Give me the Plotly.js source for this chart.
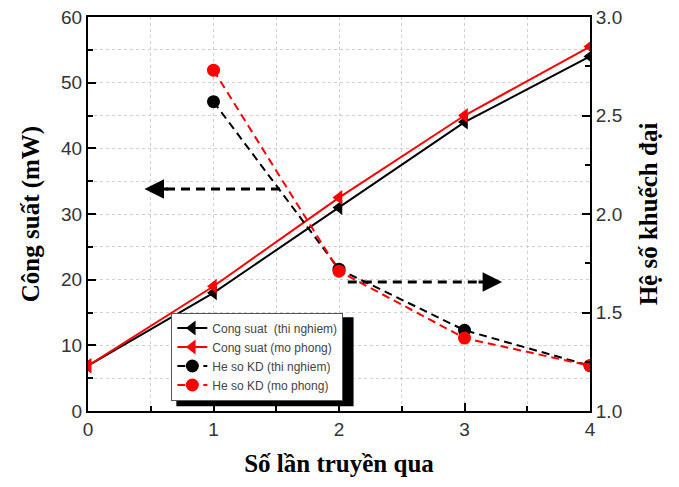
<!DOCTYPE html>
<html><head><meta charset="utf-8">
<script src="https://cdn.plot.ly/plotly-3.0.1.min.js"></script>
<style>body{margin:0;background:#fff}#c{width:679px;height:487px}</style>
</head><body><div id="c"></div>
<script>
const passes = [0, 1, 2, 3, 4];
const powerExp = [6.9, 18, 31, 44, 54];
const powerSim = [6.9, 19, 32.5, 45, 55.5];
const gainPasses = [1, 2, 3, 4];
const gainExp = [2.57, 1.72, 1.41, 1.23];
const gainSim = [2.73, 1.71, 1.37, 1.23];
const names = ['Cong suat  (thi nghiem)', 'Cong suat (mo phong)', 'He so KD (thi nghiem)', 'He so KD (mo phong)'];

const traces = [
  {x: passes, y: powerExp, name: names[0], mode: 'lines+markers', line: {color: '#000', width: 2},
   marker: {symbol: 'triangle-left', size: 13, color: '#000'}},
  {x: passes, y: powerSim, name: names[1], mode: 'lines+markers', line: {color: '#f00', width: 2},
   marker: {symbol: 'triangle-left', size: 13, color: '#f00'}},
  {x: gainPasses, y: gainExp, name: names[2], yaxis: 'y2', mode: 'lines+markers', line: {color: '#000', width: 2, dash: '8px,5px'},
   marker: {symbol: 'circle', size: 13, color: '#000'}},
  {x: gainPasses, y: gainSim, name: names[3], yaxis: 'y2', mode: 'lines+markers', line: {color: '#f00', width: 2, dash: '8px,5px'},
   marker: {symbol: 'circle', size: 13, color: '#f00'}}
];

const axFont = {family: 'Liberation Sans, Arial', size: 19, color: '#333'};
const titleFont = {family: 'Liberation Serif, Times New Roman', size: 25, color: '#000', weight: 'bold'};
const grid = {showgrid: true, gridcolor: '#d0d0d0', griddash: 'dot', gridwidth: 1};

const layout = {
  width: 679, height: 487,
  margin: {l: 88, r: 89, t: 17, b: 76},
  paper_bgcolor: '#fff', plot_bgcolor: '#fff',
  showlegend: true,
  legend: {x: 0.166, y: 0.25, xanchor: 'left', yanchor: 'top', bgcolor: '#fff', bordercolor: '#555', borderwidth: 1,
    font: {family: 'Liberation Sans, Arial', size: 12, color: '#444'}, tracegroupgap: 0, itemwidth: 30},
  xaxis: Object.assign({range: [0, 4], dtick: 1, tick0: 0, ticks: 'inside', ticklen: 8, tickwidth: 2, tickcolor: '#000',
    showline: true, linecolor: '#000', linewidth: 2, mirror: true, zeroline: false, tickfont: axFont,
    minor: {dtick: 0.5, ticks: 'inside', ticklen: 5, tickcolor: '#000', showgrid: true, gridcolor: '#d0d0d0', griddash: 'dot'},
    title: {text: 'Số lần truyền qua', font: titleFont, standoff: 16}}, grid),
  yaxis: Object.assign({range: [0, 60], dtick: 10, ticks: 'inside', ticklen: 8, tickwidth: 2, tickcolor: '#000',
    showline: true, linecolor: '#000', linewidth: 2, zeroline: false, tickfont: axFont,
    minor: {dtick: 5, ticks: 'inside', ticklen: 5, tickcolor: '#000', showgrid: true, gridcolor: '#d0d0d0', griddash: 'dot'},
    title: {text: 'Công suất (mW)', font: titleFont, standoff: 14}}, grid),
  yaxis2: {overlaying: 'y', side: 'right', range: [1, 3], dtick: 0.5, tickformat: '.1f', ticks: 'inside', ticklen: 8, tickwidth: 2,
    tickcolor: '#000', showline: true, linecolor: '#000', linewidth: 2, zeroline: false, showgrid: false, tickfont: axFont,
    minor: {dtick: 0.25, ticks: 'inside', ticklen: 5, tickcolor: '#000'},
    title: {text: 'Hệ số khuếch đại', font: titleFont, standoff: 18}},
  shapes: [
    {type: 'rect', xref: 'paper', yref: 'paper', x0: 0.176, x1: 0.529, y0: 0.012, y1: 0.238,
     fillcolor: '#000', line: {width: 0}, layer: 'above'},
    {type: 'line', xref: 'x', yref: 'y', x0: 1.53, y0: 33.8, x1: 0.6, y1: 33.8, line: {color: '#000', width: 3, dash: '9px,6px'}},
    {type: 'line', xref: 'x', yref: 'y2', x0: 2.07, y0: 1.655, x1: 3.18, y1: 1.655, line: {color: '#000', width: 3, dash: '9px,6px'}}
  ],
  annotations: [
    {xref: 'x', yref: 'y', x: 0.45, y: 33.8, ax: 0.65, ay: 33.8, axref: 'x', ayref: 'y', text: '', showarrow: true,
     arrowhead: 2, arrowsize: 1.3, arrowwidth: 3, arrowcolor: '#000'},
    {xref: 'x', yref: 'y2', x: 3.3, y: 1.655, ax: 3.1, ay: 1.655, axref: 'x', ayref: 'y2', text: '', showarrow: true,
     arrowhead: 2, arrowsize: 1.3, arrowwidth: 3, arrowcolor: '#000'}
  ]
};
Plotly.newPlot('c', traces, layout, {displayModeBar: false});
</script></body></html>
